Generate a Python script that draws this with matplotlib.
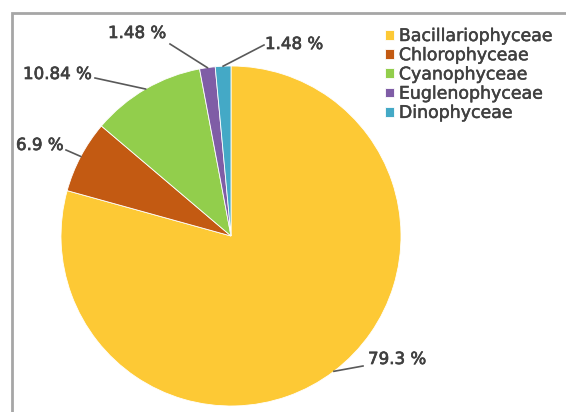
import numpy as np
import matplotlib.pyplot as plt
import matplotlib.patheffects as pe
from matplotlib.patches import Rectangle

classes = ['Bacillariophyceae', 'Chlorophyceae', 'Cyanophyceae', 'Euglenophyceae', 'Dinophyceae']
percent = [79.3, 6.9, 10.84, 1.48, 1.48]
labels = ['79.3 %', '6.9 %', '10.84 %', '1.48 %', '1.48 %']
colors = ['#FDC935', '#C35A12', '#92CE4C', '#7F5DA6', '#44A9C6']

W, H = 566, 412
fig = plt.figure(figsize=(W / 100, H / 100), dpi=100)
ax = fig.add_axes([0, 0, 1, 1])

# cadre gris autour du graphique (coupé à droite et en bas)
fig.patches.append(Rectangle((12 / W, -0.1), 1.2, 1 - 13 / H + 0.1, transform=fig.transFigure,
                             fill=False, edgecolor='#a6a6a6', linewidth=2))

cx, cy, r = 231, H - 236, 170
wedges, _ = ax.pie(percent, colors=colors, startangle=90, counterclock=False,
                   center=(cx, cy), radius=r, frame=True,
                   wedgeprops=dict(edgecolor='white', linewidth=0.6))
ax.set_xlim(0, W)
ax.set_ylim(0, H)
ax.set_aspect('equal')
ax.axis('off')

epais = [pe.withStroke(linewidth=0.5, foreground='#404040')]

# positions des étiquettes (pixels image) : texte, coude de la ligne
text_pos = [(368, 359), (16, 145), (23, 74), (108, 33), (265, 44)]
elbow = [(363, 366), (66, 150), (95, 78), (170, 44), (264, 45)]

for w, lab, tp, el in zip(wedges, labels, text_pos, elbow):
    mid = np.deg2rad((w.theta1 + w.theta2) / 2)
    ex, ey = cx + r * np.cos(mid), cy + r * np.sin(mid)
    ax.plot([ex, el[0]], [ey, H - el[1]], color='#595959', lw=1.2)
    ax.text(tp[0], H - tp[1], lab, fontsize=12, color='#404040', ha='left', va='center',
            path_effects=epais)

leg = fig.legend(wedges, classes, loc='upper left', bbox_to_anchor=(385 / W, 1 - 27 / H),
                 frameon=False, fontsize=12.5, handlelength=0.5, handleheight=0.5,
                 handletextpad=0.3, labelspacing=0.07, borderpad=0, borderaxespad=0,
                 labelcolor='#404040')
for t in leg.get_texts():
    t.set_path_effects([pe.withStroke(linewidth=0.35, foreground='#404040')])

fig.savefig('out.png', dpi=100)
